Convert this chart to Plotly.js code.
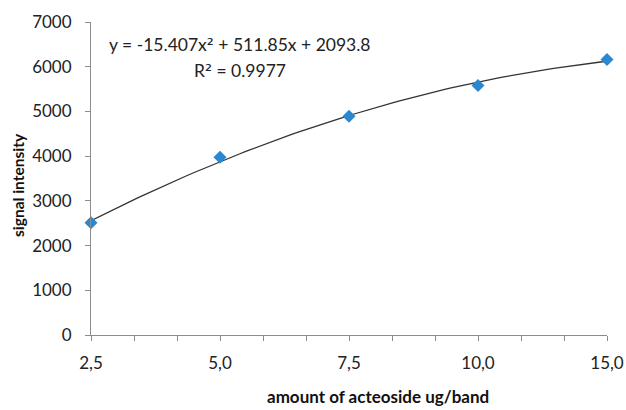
<!DOCTYPE html>
<html><head><meta charset="utf-8">
<script src="https://cdn.plot.ly/plotly-3.0.1.min.js"></script>
<style>html,body{margin:0;padding:0;background:#fff}#c{width:626px;height:410px}</style>
</head><body><div id="c"></div>
<script>
const categories = ["2,5", "5,0", "7,5", "10,0", "15,0"];
const signal = [2510, 3974, 4893, 5580, 6163];
const SQ = "<span style=\"font-family:'DejaVu Sans'\">\u00b2</span>";
const equationText = "y = -15.407x" + SQ + " + 511.85x + 2093.8";
const r2Text = "R" + SQ + " = 0.9977";
const xTitle = "amount of acteoside ug/band";
const yTitle = "signal intensity";

const idx = categories.map((_, i) => i);

// quadratic least-squares trendline through the data (on category positions)
function quadFit(xs, ys) {
  let S = [0,0,0,0,0], T = [0,0,0];
  xs.forEach((x, i) => { for (let k = 0; k < 5; k++) S[k] += Math.pow(x, k); for (let k = 0; k < 3; k++) T[k] += ys[i] * Math.pow(x, k); });
  const A = [[S[0],S[1],S[2],T[0]],[S[1],S[2],S[3],T[1]],[S[2],S[3],S[4],T[2]]];
  for (let i = 0; i < 3; i++) { for (let j = i+1; j < 3; j++) { const f = A[j][i]/A[i][i]; for (let k = i; k < 4; k++) A[j][k] -= f*A[i][k]; } }
  const c = [0,0,0];
  for (let i = 2; i >= 0; i--) { let s = A[i][3]; for (let k = i+1; k < 3; k++) s -= A[i][k]*c[k]; c[i] = s/A[i][i]; }
  return c;
}
const coef = quadFit(idx, signal);
const tx = [], ty = [];
for (let i = 0; i <= 80; i++) { const x = 4 * i / 80; tx.push(x); ty.push(coef[0] + coef[1]*x + coef[2]*x*x); }

const font = "Lato, 'Open Sans', sans-serif";
const axisColor = "#8c8c8c";
const PW = 516, PH = 313, L = 91, T = 22;

Plotly.newPlot("c", [
  { x: tx, y: ty, mode: "lines", line: { color: "#333333", width: 1.3 }, hoverinfo: "skip", cliponaxis: false },
  { x: idx, y: signal, mode: "markers", marker: { symbol: "diamond", size: 10, color: "#2A88D0" }, cliponaxis: false }
], {
  width: 626, height: 410,
  margin: { l: L, r: 19, t: T, b: 75 },
  paper_bgcolor: "#fff", plot_bgcolor: "#fff",
  showlegend: false,
  font: { family: font, size: 17, color: "#222" },
  xaxis: {
    range: [0, 4], tickvals: idx, ticktext: categories,
    showgrid: false, zeroline: false, showline: true, linecolor: axisColor, linewidth: 1,
    ticks: "outside", ticklen: 5, tickcolor: axisColor, ticklabelstandoff: 8,
    minor: { dtick: 1/3, tick0: 0, ticks: "outside", ticklen: 5, tickcolor: axisColor, showgrid: false },
    tickfont: { size: 17, family: font, color: "#222" },
    fixedrange: true
  },
  yaxis: {
    range: [0, 7000], dtick: 1000, tick0: 0,
    showgrid: false, zeroline: false, showline: true, linecolor: axisColor, linewidth: 1,
    ticks: "outside", ticklen: 5, tickcolor: axisColor, ticklabelstandoff: 10,
    tickfont: { size: 17, family: font, color: "#222" },
    fixedrange: true
  },
  annotations: [
    { xref: "paper", yref: "paper", x: (240-L)/PW, y: (335-45)/PH, text: equationText, showarrow: false, xanchor: "center", yanchor: "middle", font: { size: 17.5, family: font, color: "#222" } },
    { xref: "paper", yref: "paper", x: (240-L)/PW, y: (335-70)/PH, text: r2Text, showarrow: false, xanchor: "center", yanchor: "middle", font: { size: 17.5, family: font, color: "#222" } },
    { xref: "paper", yref: "paper", x: (378-L)/PW, y: (335-397)/PH, text: "<b>" + xTitle + "</b>", showarrow: false, xanchor: "center", yanchor: "middle", font: { size: 17, family: font, color: "#111" } },
    { xref: "paper", yref: "paper", x: (18-L)/PW, y: (335-185)/PH, text: "<b>" + yTitle + "</b>", textangle: -90, showarrow: false, xanchor: "center", yanchor: "middle", font: { size: 15.5, family: font, color: "#111" } }
  ]
}, { displayModeBar: false, staticPlot: true });
</script></body></html>
